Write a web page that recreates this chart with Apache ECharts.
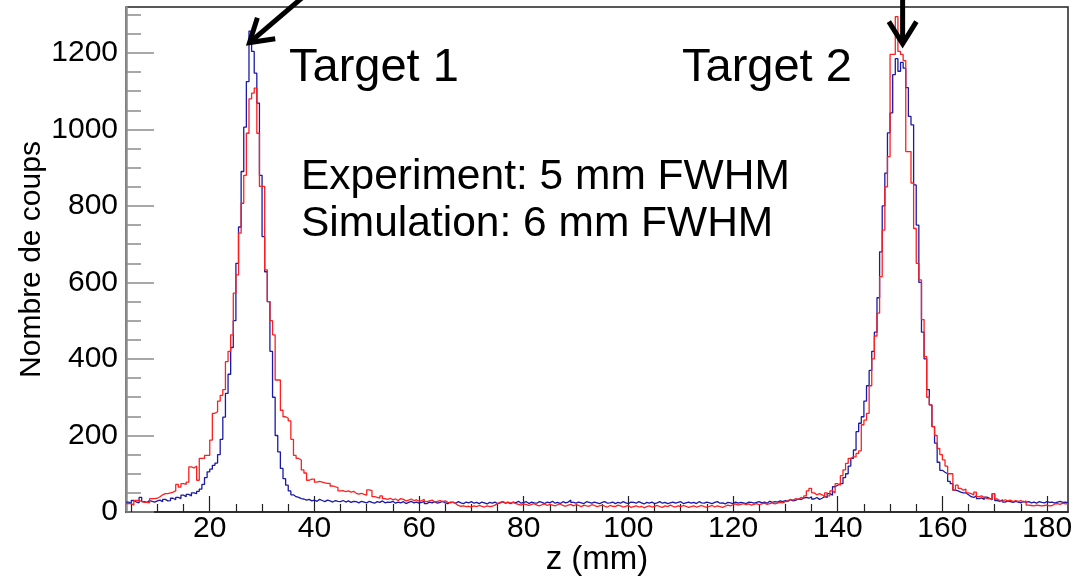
<!DOCTYPE html>
<html>
  <head>
      <meta charset="utf-8">
      <script src="https://cdn.jsdelivr.net/npm/echarts@6/dist/echarts.min.js"></script>
      <style>
        html, body { margin: 0; padding: 0; background: #fff; }
      </style>
  </head>

<body>
    <div id="main" style="width: 1089px;height:576px;"></div>
    <script type="text/javascript">
        // histogram binning: 0.5 mm bins from 4 to 184 mm
        var X_START = 4;
        var BIN = 0.5;

        var X_MAJOR = [20, 40, 60, 80, 100, 120, 140, 160, 180];
        var X_MINOR = [5, 10, 15, 25, 30, 35, 45, 50, 55, 65, 70, 75, 85, 90, 95, 105, 110, 115,
                       125, 130, 135, 145, 150, 155, 165, 170, 175];
        var Y_MAJOR = [0, 200, 400, 600, 800, 1000, 1200];
        var Y_MINOR = [50, 100, 150, 250, 300, 350, 450, 500, 550, 650, 700, 750,
                       850, 900, 950, 1050, 1100, 1150, 1250, 1300];

        // Experiment (blue)
        var experiment = [
            26, 22, 30, 26, 24, 38, 27, 25, 30, 28,
            26, 29, 31, 27, 33, 29, 30, 36, 32, 38,
            35, 44, 40, 46, 42, 50, 48, 54, 60, 72,
            90, 105, 112, 122, 128, 150, 190, 248, 310, 360,
            430, 500, 650, 745, 890, 1006, 1125, 1257, 1204, 1147,
            1069, 880, 720, 628, 550, 420, 300, 200, 157, 114,
            87, 70, 55, 45, 40, 38, 35, 34, 31, 33,
            29, 31, 28, 33, 30, 27, 31, 29, 26, 30,
            28, 27, 30, 26, 29, 25, 28, 27, 24, 28,
            26, 24, 28, 25, 23, 27, 25, 29, 24, 26,
            25, 28, 23, 26, 24, 27, 22, 25, 28, 24,
            26, 23, 25, 28, 22, 26, 24, 27, 23, 25,
            28, 24, 22, 26, 25, 23, 27, 24, 22, 26,
            24, 27, 23, 25, 22, 26, 24, 21, 25, 23,
            26, 22, 24, 27, 23, 25, 22, 26, 24, 28,
            23, 25, 27, 22, 26, 24, 23, 27, 25, 22,
            26, 24, 28, 23, 25, 22, 27, 24, 26, 31,
            25, 23, 26, 24, 22, 27, 25, 23, 26, 24,
            22, 25, 27, 23, 24, 26, 22, 25, 23, 27,
            24, 22, 26, 25, 23, 27, 24, 21, 25, 23,
            26, 22, 24, 27, 23, 25, 22, 24, 26, 23,
            25, 27, 22, 24, 26, 23, 25, 22, 27, 24,
            23, 26, 24, 22, 25, 27, 23, 24, 21, 25,
            24, 22, 26, 23, 25, 24, 22, 26, 25, 23,
            25, 27, 24, 26, 23, 28, 25, 27, 26, 29,
            27, 30, 28, 32, 29, 31, 34, 33, 36, 38,
            36, 40, 34, 38, 33, 36, 40, 38, 48, 44,
            66, 70, 74, 74, 90, 100, 120, 140, 162, 210,
            232, 249, 290, 330, 370, 420, 470, 560, 680, 800,
            886, 991, 1043, 1143, 1185, 1152, 1175, 1160, 1109, 1034,
            1012, 855, 750, 600, 470, 400, 320, 280, 223, 180,
            130, 109, 104, 100, 80, 74, 57, 55, 52, 50,
            50, 45, 40, 38, 42, 35, 37, 33, 39, 36,
            32, 48, 30, 28, 32, 26, 29, 27, 25, 28,
            26, 24, 28, 25, 27, 24, 26, 23, 27, 25,
            24, 27, 25, 26, 23, 26, 28, 25, 26, 24
        ];

        // Simulation (red)
        var simulation = [
            22, 22, 18, 30, 30, 28, 25, 25, 24, 35,
            35, 36, 40, 45, 48, 48, 50, 52, 55, 72,
            65, 74, 72, 78, 118, 115, 120, 83, 140, 140,
            148, 148, 188, 258, 262, 290, 305, 320, 393, 420,
            463, 572, 620, 729, 807, 880, 990, 1080, 1095, 1108,
            990, 851, 851, 633, 550, 500, 463, 345, 345, 266,
            249, 245, 238, 190, 148, 140, 136, 110, 102, 83,
            86, 86, 78, 80, 78, 76, 75, 75, 68, 66,
            64, 55, 56, 53, 55, 52, 54, 49, 47, 49,
            46, 44, 58, 56, 40, 38, 36, 42, 35, 33,
            36, 32, 34, 30, 35, 33, 29, 31, 34, 30,
            32, 28, 30, 33, 27, 29, 31, 26, 28, 30,
            27, 29, 25, 24, 26, 22, 17, 15, 16, 14,
            15, 13, 16, 14, 17, 15, 13, 16, 14, 15,
            18, 22, 25, 27, 24, 26, 23, 25, 22, 20,
            18, 21, 19, 17, 20, 22, 18, 16, 19, 21,
            17, 20, 18, 16, 19, 21, 17, 15, 18, 20,
            16, 19, 17, 14, 18, 16, 15, 19, 17, 14,
            16, 18, 15, 13, 17, 15, 14, 18, 16, 13,
            15, 17, 12, 14, 16, 13, 15, 11, 14, 16,
            13, 15, 17, 14, 12, 16, 14, 18, 15, 13,
            16, 14, 17, 15, 12, 14, 16, 13, 15, 17,
            14, 12, 15, 17, 13, 16, 14, 12, 15, 18,
            16, 19, 21, 18, 20, 22, 19, 21, 18, 20,
            22, 19, 21, 23, 20, 22, 24, 21, 23, 25,
            24, 27, 30, 33, 31, 35, 33, 38, 36, 42,
            55, 62, 50, 45, 48, 45, 40, 50, 42, 55,
            50, 74, 70, 95, 110, 127, 140, 144, 144, 153,
            160, 228, 240, 258, 330, 400, 460, 520, 615, 737,
            850, 929, 1196, 1196, 1295, 1204, 1196, 1180, 942, 942,
            860, 741, 650, 607, 503, 406, 300, 280, 223, 200,
            166, 150, 136, 120, 100, 100, 57, 70, 62, 57,
            60, 50, 48, 45, 52, 40, 42, 38, 35, 35,
            32, 48, 34, 30, 28, 32, 29, 31, 27, 30,
            28, 30, 26, 29, 18, 17, 16, 18, 17, 16,
            17, 18, 16, 17, 21, 22, 20, 23, 21, 22
        ];

        // annotations, in data coordinates [z, counts]
        var arrows = [
            { tail: [37.9, 1347], tip: [27.6, 1227] },
            { tail: [152.4, 1347], tip: [152.4, 1224] }
        ];
        var labels = [
            { text: 'Target 1', x: 289, y: 68, size: 47 },
            { text: 'Target 2', x: 682, y: 68, size: 47 },
            { text: 'Experiment: 5 mm FWHM', x: 301, y: 177, size: 42.5 },
            { text: 'Simulation: 6 mm FWHM', x: 301, y: 224, size: 42.5 }
        ];

        var FONT = "'Liberation Sans', Arial, sans-serif";

        function toSteps(vals) {
            var pts = vals.map(function (v, i) { return [X_START + i * BIN, v]; });
            pts.push([X_START + vals.length * BIN, vals[vals.length - 1]]);
            return pts;
        }

        function plain(v) { return String(v); }

        var myChart = echarts.init(document.getElementById('main'));
        myChart.setOption({
            animation: false,
            backgroundColor: '#fff',
            grid: {
                left: 126, right: 21, top: 7, bottom: 64,
                show: true, borderColor: '#222', borderWidth: 1.5,
                outerBoundsMode: 'none'
            },
            xAxis: [{
                type: 'value', min: 4, max: 184,
                name: 'z (mm)', nameLocation: 'middle', nameGap: 31, nameMoveOverlap: false,
                nameTextStyle: { color: '#000', fontSize: 33, fontFamily: FONT },
                axisLine: { show: true, lineStyle: { color: '#222', width: 1.5 } },
                axisTick: { inside: true, length: 16, customValues: X_MAJOR, lineStyle: { color: '#222', width: 1.2 } },
                axisLabel: { customValues: X_MAJOR, formatter: plain, color: '#000', fontSize: 30, fontFamily: FONT, margin: 2 },
                splitLine: { show: false }
            }, {
                type: 'value', min: 4, max: 184, position: 'bottom',
                axisLine: { show: false },
                axisTick: { inside: true, length: 8, customValues: X_MINOR, lineStyle: { color: '#222', width: 1.2 } },
                axisLabel: { show: false },
                splitLine: { show: false }
            }],
            yAxis: [{
                type: 'value', min: 0, max: 1320,
                name: 'Nombre de coups', nameLocation: 'middle', nameGap: 79, nameMoveOverlap: false,
                nameTextStyle: { color: '#000', fontSize: 30, fontFamily: FONT },
                axisLine: { show: true, lineStyle: { color: '#8c8c8c', width: 2.5 } },
                axisTick: { inside: true, length: 28, customValues: Y_MAJOR, lineStyle: { color: '#8c8c8c', width: 1.5 } },
                axisLabel: { customValues: Y_MAJOR, formatter: plain, color: '#000', fontSize: 30, fontFamily: FONT, margin: 8 },
                splitLine: { show: false }
            }, {
                type: 'value', min: 0, max: 1320, position: 'left',
                axisLine: { show: false },
                axisTick: { inside: true, length: 15, customValues: Y_MINOR, lineStyle: { color: '#8c8c8c', width: 1.5 } },
                axisLabel: { show: false },
                splitLine: { show: false }
            }],
            series: [{
                name: 'Experiment', type: 'line', step: 'end', symbol: 'none',
                xAxisIndex: 0, yAxisIndex: 0,
                lineStyle: { color: '#1a1aa8', width: 1.3 },
                data: toSteps(experiment)
            }, {
                name: 'Simulation', type: 'line', step: 'end', symbol: 'none',
                xAxisIndex: 0, yAxisIndex: 0,
                lineStyle: { color: '#ff1f1f', width: 1.3 },
                data: toSteps(simulation)
            }]
        });

        // arrows and texts on top
        var graphics = [];
        arrows.forEach(function (a) {
            var t = myChart.convertToPixel({ gridIndex: 0 }, a.tip);
            var s = myChart.convertToPixel({ gridIndex: 0 }, a.tail);
            var ang = Math.atan2(s[1] - t[1], s[0] - t[0]);
            var hl = 26, ha = 32 * Math.PI / 180;
            var b1 = [t[0] + hl * Math.cos(ang + ha), t[1] + hl * Math.sin(ang + ha)];
            var b2 = [t[0] + hl * Math.cos(ang - ha), t[1] + hl * Math.sin(ang - ha)];
            graphics.push({ type: 'polyline', z: 100, shape: { points: [s, t] },
                style: { stroke: '#000', lineWidth: 5, fill: null } });
            graphics.push({ type: 'polyline', z: 100, shape: { points: [b1, t, b2] },
                style: { stroke: '#000', lineWidth: 5, fill: null, lineJoin: 'miter' } });
        });
        labels.forEach(function (l) {
            graphics.push({ type: 'text', z: 100, x: l.x, y: l.y,
                style: { text: l.text, fill: '#000', fontSize: l.size, fontFamily: FONT,
                         verticalAlign: 'middle', align: 'left' } });
        });
        myChart.setOption({ graphic: graphics });
    </script>
</body>

</html>
